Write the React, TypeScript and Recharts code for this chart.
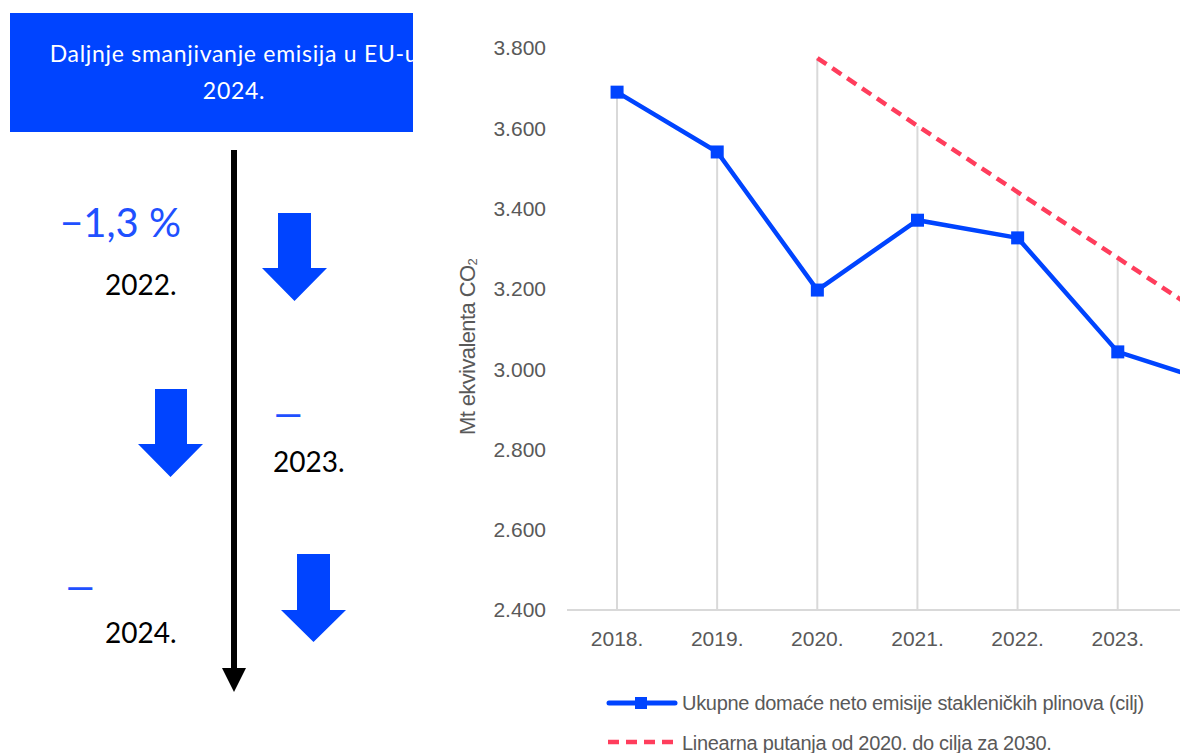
import { ComposedChart, Line, Bar, XAxis, YAxis } from "recharts";

const BLUE = "#0044ff";
const RED = "#ff3d5c";
const GREY_TEXT = "#595959";
const GRID = "#d9d9d9";

const years = ["2018.", "2019.", "2020.", "2021.", "2022.", "2023.", "2024."];
// Mt ekvivalenta CO2
const netEmissions = [3690, 3541, 3197, 3371, 3327, 3043, 2963];
const linearPath: (number | null)[] = [null, null, 3775, 3606, 3441, 3277, 3112];
const yTicks = [2400, 2600, 2800, 3000, 3200, 3400, 3600, 3800];

const seriesNames = [
  "Ukupne domaće neto emisije stakleničkih plinova (cilj)",
  "Linearna putanja od 2020. do cilja za 2030.",
];

const data = years.map((year, i) => ({
  year,
  emisije: netEmissions[i],
  putanja: linearPath[i],
  // vertical drop line from the highest value of the year
  drop: Math.max(netEmissions[i], linearPath[i] ?? 0),
}));

const fmt = (v: number) =>
  `${Math.floor(v / 1000)}.${String(v % 1000).padStart(3, "0")}`;

const SquareDot = (props: any) => {
  const { cx, cy, index } = props;
  if (cx == null || cy == null) return null;
  return <rect key={index} x={cx - 6.5} y={cy - 6.5} width={13} height={13} fill={BLUE} />;
};

const YLabel = ({ viewBox }: any) => {
  const { x, y, height } = viewBox;
  return (
    <text
      transform={`translate(${x + 10},${y + height / 2 + 18}) rotate(-90)`}
      textAnchor="middle"
      dominantBaseline="central"
      fill={GREY_TEXT}
      fontSize={22}
      letterSpacing={-0.6}
      fontFamily="'Liberation Sans', Arial, sans-serif"
    >
      Mt ekvivalenta CO
      <tspan fontSize={13} dy={5}>2</tspan>
    </text>
  );
};

// block arrow: shaft + triangular head
const arrow = (sx1: number, sx2: number, top: number, neck: number, hx1: number, hx2: number, tip: number) => {
  const mid = (hx1 + hx2) / 2;
  return `${sx1},${top} ${sx2},${top} ${sx2},${neck} ${hx2},${neck} ${mid},${tip} ${hx1},${neck} ${sx1},${neck}`;
};

const lato = "Lato, 'Open Sans', sans-serif";

const minusStyle = {
  position: "absolute" as const,
  color: "#1f50ff",
  fontFamily: lato,
  fontSize: 40,
  lineHeight: "40px",
  transform: "scaleX(1.4)",
  transformOrigin: "left center",
};

function LeftPanel() {
  return (
    <>
      <div
        style={{
          position: "absolute",
          left: 10,
          top: 13,
          width: 403,
          height: 119,
          background: BLUE,
          overflow: "hidden",
        }}
      >
        <div
          style={{
            position: "absolute",
            left: 0,
            top: 22,
            width: 448,
            textAlign: "center",
            color: "#fff",
            fontFamily: lato,
            fontSize: 23,
            letterSpacing: 0.7,
            lineHeight: "37px",
            whiteSpace: "nowrap",
          }}
        >
          Daljnje smanjivanje emisija u EU-u
          <br />
          2024.
        </div>
      </div>

      <svg style={{ position: "absolute", left: 0, top: 0 }} width={440} height={753}>
        <rect x={231} y={150} width={6} height={520} fill="#000" />
        <polygon points="222,668 246,668 234,692" fill="#000" />
        <polygon points={arrow(278, 311, 213, 268, 262, 327, 301)} fill={BLUE} />
        <polygon points={arrow(155, 187, 389, 444, 138, 203, 477)} fill={BLUE} />
        <polygon points={arrow(297, 330, 554, 610, 281, 346, 642)} fill={BLUE} />
      </svg>

      <div style={{ position: "absolute", left: 40, top: 202, width: 141, textAlign: "right", color: "#1f50ff", fontFamily: lato, fontSize: 40, lineHeight: "40px", whiteSpace: "nowrap" }}>
        −1,3 %
      </div>
      <div style={{ position: "absolute", left: 105, top: 270, color: "#000", fontFamily: lato, fontSize: 28, lineHeight: "28px" }}>
        2022.
      </div>
      <div style={{ ...minusStyle, left: 272, top: 394 }}>−</div>
      <div style={{ position: "absolute", left: 273, top: 447, color: "#000", fontFamily: lato, fontSize: 28, lineHeight: "28px" }}>
        2023.
      </div>
      <div style={{ ...minusStyle, left: 64, top: 567 }}>−</div>
      <div style={{ position: "absolute", left: 105, top: 618, color: "#000", fontFamily: lato, fontSize: 28, lineHeight: "28px" }}>
        2024.
      </div>
    </>
  );
}

function ChartLegend() {
  const textStyle = {
    position: "absolute" as const,
    left: 682,
    color: GREY_TEXT,
    fontFamily: "'Liberation Sans', Arial, sans-serif",
    fontSize: 20,
    letterSpacing: -0.3,
    lineHeight: "24px",
    whiteSpace: "nowrap" as const,
  };
  return (
    <>
      <svg style={{ position: "absolute", left: 600, top: 690 }} width={82} height={63}>
        <line x1={9} x2={75} y1={13} y2={13} stroke={BLUE} strokeWidth={5} strokeLinecap="round" />
        <rect x={35} y={7} width={12} height={12} fill={BLUE} />
        <line x1={8} x2={76} y1={52} y2={52} stroke={RED} strokeWidth={4.5} strokeDasharray="11 7" />
      </svg>
      <div style={{ ...textStyle, top: 691 }}>{seriesNames[0]}</div>
      <div style={{ ...textStyle, top: 731 }}>{seriesNames[1]}</div>
    </>
  );
}

export default function App() {
  return (
    <div
      style={{
        position: "fixed",
        left: 0,
        top: 0,
        width: 1180,
        height: 753,
        overflow: "hidden",
        background: "#fff",
      }}
    >
      <LeftPanel />
      <div style={{ position: "absolute", left: 0, top: 0 }}>
        <ComposedChart
          width={1290}
          height={753}
          data={data}
          margin={{ top: 48, right: 22, bottom: 103, left: 457 }}
        >
          <XAxis
            dataKey="year"
            height={40}
            tickLine={false}
            tickSize={6}
            tickMargin={15}
            axisLine={{ stroke: GRID, strokeWidth: 2 }}
            tick={{ fill: GREY_TEXT, fontSize: 21, fontFamily: "'Liberation Sans', Arial, sans-serif" }}
            interval={0}
          />
          <YAxis
            width={110}
            domain={[2400, 3800]}
            ticks={yTicks}
            interval={0}
            allowDataOverflow
            tickFormatter={fmt}
            axisLine={false}
            tickLine={false}
            tickSize={6}
            tickMargin={15}
            tick={{ fill: GREY_TEXT, fontSize: 21, fontFamily: "'Liberation Sans', Arial, sans-serif" }}
            label={{ content: YLabel }}
          />
          <Bar dataKey="drop" barSize={2} fill={GRID} isAnimationActive={false} />
          <Line
            dataKey="putanja"
            stroke={RED}
            strokeWidth={4.5}
            strokeDasharray="11 7"
            dot={false}
            activeDot={false}
            isAnimationActive={false}
          />
          <Line
            dataKey="emisije"
            stroke={BLUE}
            strokeWidth={4.5}
            dot={SquareDot}
            activeDot={false}
            isAnimationActive={false}
          />
        </ComposedChart>
      </div>
      <ChartLegend />
    </div>
  );
}
